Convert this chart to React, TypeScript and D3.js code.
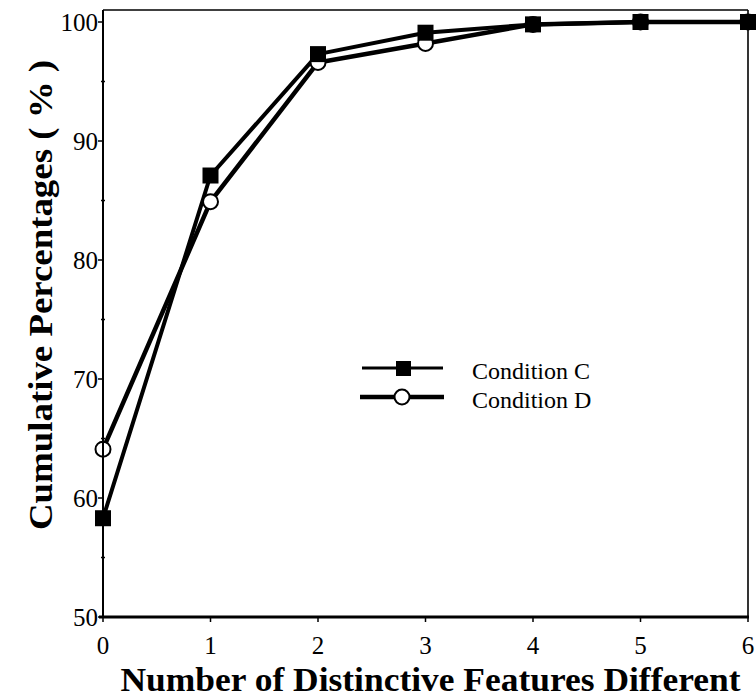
import * as d3 from "d3";
import { useEffect, useRef } from "react";

// values
const features = [0, 1, 2, 3, 4, 5, 6];
const conditionC = [58.3, 87.1, 97.3, 99.1, 99.8, 100, 100];
const conditionD = [64.1, 84.9, 96.6, 98.2, 99.8, 100, 100];
const yTicks = [50, 60, 70, 80, 90, 100];
const yMinor = [55, 65, 75, 85, 95];

const W = 756;
const H = 700;

const App = () => {
  const ref = useRef<SVGSVGElement>(null);

  useEffect(() => {
    const svg = d3.select(ref.current);
    svg.selectAll("*").remove();

    const margin = { top: 10, right: 8, bottom: 83, left: 103 };
    const x = d3.scaleLinear().domain([0, 6]).range([margin.left, W - margin.right]);
    const y = d3.scaleLinear().domain([50, 100]).range([H - margin.bottom, 22]);
    const font = "Liberation Serif, Times New Roman, Times, serif";

    // frame top / right
    svg.append("line")
      .attr("x1", x(0)).attr("x2", x(6))
      .attr("y1", margin.top).attr("y2", margin.top)
      .attr("stroke", "#000").attr("stroke-width", 1.6);
    svg.append("line")
      .attr("x1", x(6)).attr("x2", x(6))
      .attr("y1", margin.top).attr("y2", y(50))
      .attr("stroke", "#000").attr("stroke-width", 1.6);

    // series lines
    const line = (vals: number[]) =>
      d3.line<number>().x((_, i) => x(features[i])).y(v => y(v))(vals);

    svg.append("path")
      .attr("d", line(conditionD))
      .attr("fill", "none").attr("stroke", "#000").attr("stroke-width", 4.5)
      .attr("stroke-linejoin", "round");
    svg.append("path")
      .attr("d", line(conditionC))
      .attr("fill", "none").attr("stroke", "#000").attr("stroke-width", 4)
      .attr("stroke-linejoin", "round");

    // markers
    svg.selectAll(".dot-d")
      .data(conditionD)
      .enter()
      .append("circle")
        .attr("cx", (_, i) => x(features[i]))
        .attr("cy", d => y(d))
        .attr("r", 7.5)
        .attr("fill", "#fff")
        .attr("stroke", "#000")
        .attr("stroke-width", 2);

    svg.selectAll(".dot-c")
      .data(conditionC)
      .enter()
      .append("rect")
        .attr("x", (_, i) => x(features[i]) - 8)
        .attr("y", d => y(d) - 8)
        .attr("width", 16)
        .attr("height", 16)
        .attr("fill", "#000");

    // y axis
    const gy = svg.append("g").attr("transform", `translate(${x(0)},0)`);
    gy.append("line")
      .attr("x1", 0).attr("x2", 0)
      .attr("y1", margin.top).attr("y2", y(50))
      .attr("stroke", "#000").attr("stroke-width", 2);
    yTicks.forEach(t => {
      gy.append("line")
        .attr("x1", -5).attr("x2", 0)
        .attr("y1", y(t)).attr("y2", y(t))
        .attr("stroke", "#000").attr("stroke-width", 1.5);
      gy.append("text")
        .attr("x", -5).attr("y", y(t) + 9)
        .attr("text-anchor", "end")
        .attr("font-family", font).attr("font-size", 25)
        .text(t);
    });
    yMinor.forEach(t => {
      gy.append("line")
        .attr("x1", -2).attr("x2", 2)
        .attr("y1", y(t)).attr("y2", y(t))
        .attr("stroke", "#000").attr("stroke-width", 1.5);
    });

    // x axis
    const gx = svg.append("g").attr("transform", `translate(0,${y(50)})`);
    gx.append("line")
      .attr("x1", x(0) - 4).attr("x2", x(6) + 1)
      .attr("y1", 0).attr("y2", 0)
      .attr("stroke", "#000").attr("stroke-width", 3);
    features.forEach(f => {
      gx.append("line")
        .attr("x1", x(f)).attr("x2", x(f))
        .attr("y1", 0).attr("y2", 5)
        .attr("stroke", "#000").attr("stroke-width", 1.5);
      gx.append("text")
        .attr("x", x(f)).attr("y", 37)
        .attr("text-anchor", "middle")
        .attr("font-family", font).attr("font-size", 25)
        .text(f);
    });

    // axis titles
    svg.append("text")
      .attr("x", (x(0) + x(6)) / 2 + 5).attr("y", 691)
      .attr("text-anchor", "middle")
      .attr("font-family", font).attr("font-size", 34).attr("font-weight", "bold")
      .attr("textLength", 620).attr("lengthAdjust", "spacingAndGlyphs")
      .text("Number of Distinctive Features Different");

    svg.append("text")
      .attr("transform", `translate(52,${295}) rotate(-90)`)
      .attr("text-anchor", "middle")
      .attr("font-family", font).attr("font-size", 34).attr("font-weight", "bold")
      .attr("textLength", 470).attr("lengthAdjust", "spacingAndGlyphs")
      .text("Cumulative Percentages ( % )");

    // legend
    const lg = svg.append("g");
    lg.append("line")
      .attr("x1", 362).attr("x2", 443).attr("y1", 368).attr("y2", 368)
      .attr("stroke", "#000").attr("stroke-width", 3);
    lg.append("rect")
      .attr("x", 396).attr("y", 361).attr("width", 15).attr("height", 15)
      .attr("fill", "#000");
    lg.append("line")
      .attr("x1", 360).attr("x2", 444).attr("y1", 397).attr("y2", 397)
      .attr("stroke", "#000").attr("stroke-width", 4.5);
    lg.append("circle")
      .attr("cx", 402).attr("cy", 397).attr("r", 7.5)
      .attr("fill", "#fff").attr("stroke", "#000").attr("stroke-width", 2);
    lg.append("text")
      .attr("x", 472).attr("y", 379)
      .attr("font-family", font).attr("font-size", 24)
      .text("Condition C");
    lg.append("text")
      .attr("x", 472).attr("y", 408)
      .attr("font-family", font).attr("font-size", 24)
      .text("Condition D");
  }, []);

  return (
    <svg
      ref={ref}
      width={W}
      height={H}
      style={{ position: "absolute", left: 0, top: 0, background: "#fff" }}
    ></svg>
  );
};

export default App;
